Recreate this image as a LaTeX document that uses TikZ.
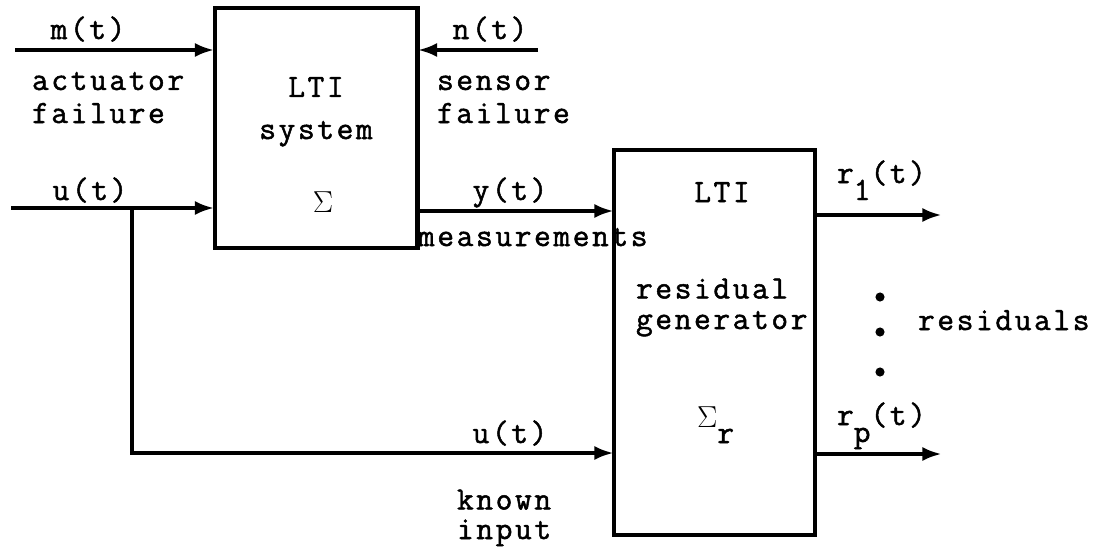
\documentclass[tikz,border=0pt]{standalone}
\usepackage{fontspec}
\newfontfamily\twfont{lmmono12-regular.otf}[LetterSpace=8,FakeBold=1.5]
\usetikzlibrary{arrows.meta,positioning}

\begin{document}
\begin{tikzpicture}[x=0.02cm,y=-0.02cm,>={Latex[length=11pt,width=8pt]},
    line width=2.3pt,
    block/.style={draw,rectangle,inner sep=0pt},
    sig/.style={->,shorten >=-1pt},
    txt/.style={inner sep=0pt,font=\twfont\fontsize{18.5}{18.8}\selectfont},
    twoline/.style={txt,align=left}]
  \useasboundingbox (0,0) rectangle (1102,552);
  % blocks
  \node[block,minimum width=4.06cm,minimum height=4.8cm] (sys) at (316,128) {};
  \node[block,minimum width=4.02cm,minimum height=7.7cm] (res) at (714.5,342.5) {};
  % free ends of the signals
  \coordinate (min) at (15,50);
  \coordinate (nin) at (538,50);
  \coordinate (uin) at (11,208);
  \coordinate (ubr) at (132,208);
  \coordinate (ulow) at (132,453);
  \coordinate (ymeas) at (418,211);
  \coordinate (r1end) at (940,215);
  \coordinate (rpend) at (940,454);
  \draw[sig] (min) -- (min -| sys.west);
  \draw[sig] (nin) -- (nin -| sys.east);
  \draw[sig] (uin) -- (uin -| sys.west);
  \draw[sig] (ubr) -- (ulow) -- (ulow -| res.west);
  \draw[sig] (sys.east |- ymeas) -- (res.west |- ymeas);
  \draw[sig] (res.east |- r1end) -- (r1end);
  \draw[sig] (res.east |- rpend) -- (rpend);
  % labels (two-line nodes sit on the baseline of their last line)
  \node[txt,anchor=base] (mlbl) at (88,39) {m(t)};
  \node[txt,anchor=base] (nlbl) at (490,39) {n(t)};
  \node[twoline,anchor=base west] (act) at (30,123) {actuator\\failure};
  \node[twoline,anchor=base west] (sens) at (435,123) {sensor\\failure};
  \node[txt,align=center,anchor=base] (syslbl) at (316,139) {LTI\\[0.18cm]system};
  \node[txt,anchor=base] (sigsys) at (323,212) {$\Sigma$};
  \node[txt,anchor=base] (ulbl) at (90,200) {u(t)};
  \node[txt,anchor=base] (ylbl) at (510,200) {y(t)};
  \node[txt,anchor=base west] (meas) at (416,246) {measurements};
  \node[txt,anchor=base] (reslti) at (722,202) {LTI};
  \node[twoline,anchor=base west] (gen) at (634,329) {residual\\[-0.05cm]generator};
  \node[txt,anchor=base west] (sigres) at (695,427) {$\Sigma$\raisebox{-0.32cm}{r}};
  \node[txt,anchor=base west] (r1lbl) at (835,183) {r\raisebox{-0.34cm}{1}(t)};
  \node[txt,anchor=base west] (rplbl) at (835,425) {r\raisebox{-0.34cm}{p}(t)};
  \node[txt,anchor=base west] (resid) at (916,330) {residuals};
  \node[txt,anchor=base] (ulow lbl) at (510,443) {u(t)};
  \node[twoline,anchor=base west] (known) at (455,539) {known\\[-0.07cm]input};
  % dots
  \fill (880,297) circle[radius=2.6pt];
  \fill (880,332) circle[radius=2.6pt];
  \fill (880,372) circle[radius=2.6pt];
\end{tikzpicture}
\end{document}
